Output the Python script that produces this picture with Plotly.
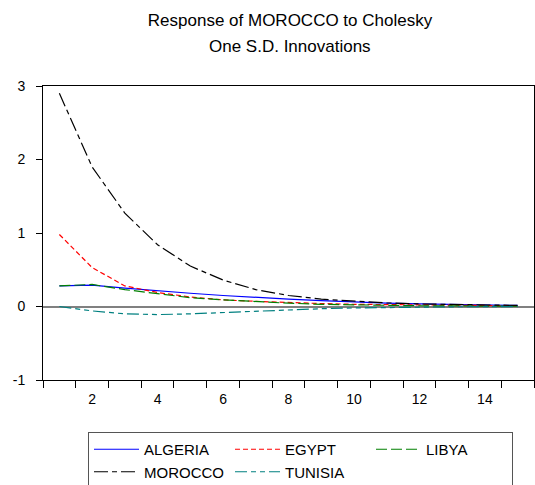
import plotly.graph_objects as go

periods = list(range(1, 16))
algeria = [0.28, 0.29, 0.25, 0.21, 0.18, 0.15, 0.12, 0.10, 0.08, 0.06, 0.045, 0.035, 0.025, 0.02, 0.015]
egypt = [0.98, 0.53, 0.28, 0.19, 0.13, 0.09, 0.07, 0.05, 0.04, 0.03, 0.025, 0.02, 0.015, 0.01, 0.01]
libya = [0.28, 0.30, 0.23, 0.17, 0.12, 0.09, 0.065, 0.045, 0.03, 0.02, 0.015, 0.01, 0.008, 0.005, 0.004]
morocco = [2.90, 1.90, 1.27, 0.84, 0.55, 0.36, 0.23, 0.15, 0.10, 0.07, 0.05, 0.035, 0.025, 0.02, 0.015]
tunisia = [0.0, -0.06, -0.10, -0.11, -0.10, -0.08, -0.06, -0.045, -0.03, -0.02, -0.012, -0.007, -0.004, -0.002, -0.001]

x_ticks = [2, 4, 6, 8, 10, 12, 14]
y_ticks = [-1, 0, 1, 2, 3]

title_line1 = "Response of MOROCCO to Cholesky"
title_line2 = "One S.D. Innovations"

FONT = "Arial, Liberation Sans, sans-serif"

series = [
    ("ALGERIA", algeria, "#0000FF", "solid"),
    ("EGYPT", egypt, "#FF0000", "5px,3px"),
    ("LIBYA", libya, "#008000", "11px,4px"),
    ("MOROCCO", morocco, "#000000", "14px,4px,5px,4px"),
    ("TUNISIA", tunisia, "#008080", "12px,4px,5px,4px,5px,4px"),
]

fig = go.Figure()
for name, vals, color, dash in series:
    fig.add_trace(go.Scatter(
        x=periods, y=vals, name=name, mode="lines",
        line=dict(color=color, width=1.2, dash=dash),
    ))

fig.update_layout(
    width=535, height=485,
    margin=dict(l=43, r=1, t=86, b=105),
    paper_bgcolor="white", plot_bgcolor="white",
    font=dict(family=FONT, size=14, color="black"),
    title=dict(
        text=title_line1,
        x=290 / 535, xanchor="center", xref="container",
        y=1 - 20 / 485, yanchor="middle", yref="container",
        font=dict(family=FONT, size=17, color="black"),
    ),
    annotations=[dict(
        text=title_line2, xref="paper", yref="paper",
        x=(290 - 43) / (535 - 44), xanchor="center",
        y=1 + (86 - 46) / (485 - 191), yanchor="middle",
        showarrow=False, font=dict(family=FONT, size=17, color="black"),
    )],
    legend=dict(
        orientation="h",
        xref="container", yref="container",
        x=88 / 535, xanchor="left",
        y=1 - 432 / 485, yanchor="top",
        bordercolor="#555555", borderwidth=1,
        font=dict(family=FONT, size=15, color="black"),
        itemwidth=45,
        entrywidth=81,
        tracegroupgap=0,
    ),
    showlegend=True,
)

fig.update_xaxes(
    range=[0.5, 15.5],
    tickmode="array", tickvals=x_ticks, ticktext=[str(v) for v in x_ticks],
    ticks="", showgrid=False, zeroline=False,
    showline=True, linecolor="black", linewidth=1, mirror=True,
    ticklabelstandoff=6,
    minor=dict(tickmode="linear", tick0=0.5, dtick=1, ticks="outside",
               ticklen=7, tickcolor="black", tickwidth=1, showgrid=False),
)
fig.update_yaxes(
    range=[-1, 3],
    tickmode="array", tickvals=y_ticks, ticktext=[str(v) for v in y_ticks],
    ticks="outside", ticklen=6, tickcolor="black", tickwidth=1,
    showgrid=False,
    zeroline=True, zerolinecolor="#808080", zerolinewidth=2,
    showline=True, linecolor="black", linewidth=1, mirror=True,
    ticklabelstandoff=8,
)

fig.write_html("out.html")
